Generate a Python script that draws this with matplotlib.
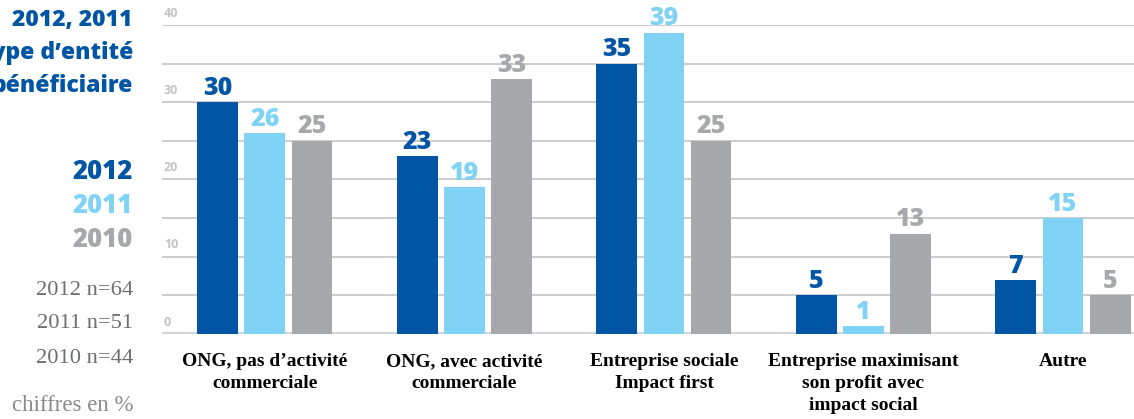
import numpy as np
import matplotlib.pyplot as plt

# Données (en %)
categories = ["ONG, pas d’activité\ncommerciale",
              "ONG, avec activité\ncommerciale",
              "Entreprise sociale\nImpact first",
              "Entreprise maximisant\nson profit avec\nimpact social",
              "Autre"]
years = ["2012", "2011", "2010"]
v2012 = [30, 23, 35, 5, 7]
v2011 = [26, 19, 39, 1, 15]
v2010 = [25, 33, 25, 13, 5]
sample_sizes = ["2012 n=64", "2011 n=51", "2010 n=44"]
yticks_labels = [0, 10, 20, 30, 40]

colors = ["#0055a5", "#80d3f5", "#a7a8ac"]
serie = [v2012, v2011, v2010]

fig = plt.figure(figsize=(11.34, 4.19), dpi=100)
ax = fig.add_axes([162/1134, 1 - 334/419, 1 - 162/1134, 309/419])

x = np.arange(len(categories))
w = 0.205
step = 0.236

for k, (vals, col) in enumerate(zip(serie, colors)):
    pos = x + (k - 1) * step
    ax.bar(pos, vals, width=w, color=col, zorder=3)
    for p, v in zip(pos, vals):
        ax.annotate(str(v), (p, v), xytext=(0, 1), textcoords="offset points",
                    ha="center", va="bottom", fontsize=18, fontweight=800,
                    color=col, family="Open Sans", zorder=4)

ax.set_xlim(-0.516, 4.356)
ax.set_ylim(0, 40)

# Grille
for g in range(5, 41, 5):
    ax.axhline(g, color="#c8c8c8", linewidth=1.3, zorder=1)
ax.axhline(0, color="#d4d4d4", linewidth=3, zorder=2)
for t in yticks_labels:
    ax.text(-0.516 + 0.01, t + 0.7, str(t), ha="left", va="bottom",
            fontsize=9, fontweight="bold", color="#c4c4c4", family="Open Sans")

for s in ax.spines.values():
    s.set_visible(False)
ax.set_yticks([])
ax.set_xticks(x)
ax.set_xticklabels(categories, fontsize=14, fontweight="bold", family="Liberation Serif",
                   linespacing=1.35)
ax.tick_params(axis="x", length=0, pad=14)

# Titre et légende à gauche
title_lines = ["2012, 2011", "type d’entité", "bénéficiaire"]
for i, t in enumerate(title_lines):
    fig.text(133/1134, 1 - (20 + 33 * i)/419, t, ha="right", va="center", fontsize=16.5,
             fontweight=800, color="#0055a5", family="Open Sans")

for i, (yr, col) in enumerate(zip(years, colors)):
    fig.text(133/1134, 1 - (172 + 34 * i)/419, yr, ha="right", va="center", fontsize=18.5,
             fontweight=800, color=col, family="Open Sans")
for i, s in enumerate(sample_sizes):
    fig.text(133/1134, 1 - (290 + 34 * i)/419, s, ha="right", va="center", fontsize=16.2,
             color="#6d6e70", family="Liberation Serif")
fig.text(133/1134, 1 - 405/419, "chiffres en %", ha="right", va="center", fontsize=16.5,
         color="#8a8a8a", family="Liberation Serif")

fig.savefig("out.png", dpi=100)
